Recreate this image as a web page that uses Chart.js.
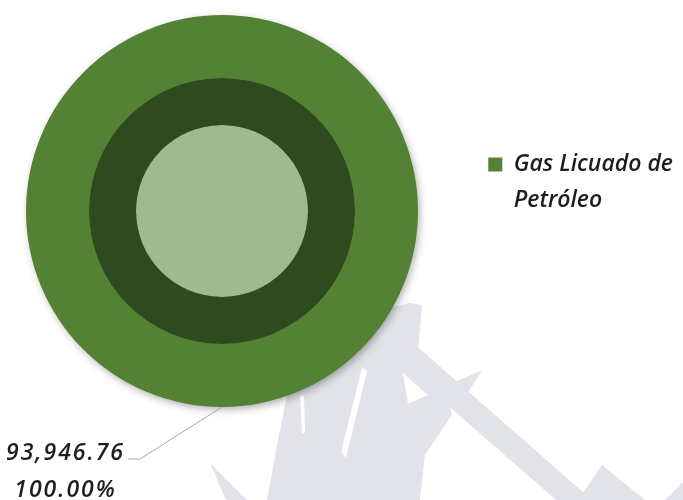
<!DOCTYPE html>
<html>
<head>
    <script src="https://cdn.jsdelivr.net/npm/chart.js"></script>
    <style>
        html, body { margin: 0; padding: 0; background: #fff; }
        #wrap { width: 683px; height: 500px; }
    </style>
</head>
<body>
<div id="wrap"><canvas id="gasChart"></canvas></div>

<script>
    const categories = ['Gas Licuado de Petróleo'];
    const values = [93946.76];
    const ringColors = ['#548235', '#2F4A1E', '#A0BA8D'];
    const ringWeights = [63, 47, 86];

    // split the legend text over two lines like the original
    function wrapLabel(text) {
        const words = text.split(' ');
        return [words.slice(0, -1).join(' '), words[words.length - 1]];
    }

    // grey logo in the background (decoration only)
    const watermark = {
        id: 'watermark',
        beforeDraw(chart) {
            const ctx = chart.ctx;
            const grey = [
                [[410, 303], [422, 305], [418, 350], [440, 372], [452, 415], [425, 455], [420, 500], [267, 500], [278, 440], [290, 380], [300, 330]],
                [[412, 342], [592, 500], [556, 500], [405, 368]],
                [[446, 386], [482, 370], [462, 402]],
                [[210, 463], [226, 500], [247, 500]],
                [[602, 465], [645, 500], [578, 500]],
                [[683, 482], [683, 500], [665, 500]]
            ];
            const white = [
                [[362, 368], [367, 371], [346, 458], [341, 452]],
                [[300, 395], [304, 396], [305, 432], [302, 434]],
                [[403, 373], [428, 395], [408, 404]]
            ];
            const fill = (shapes, colour) => {
                ctx.fillStyle = colour;
                shapes.forEach(s => {
                    ctx.beginPath();
                    s.forEach((p, i) => i ? ctx.lineTo(p[0], p[1]) : ctx.moveTo(p[0], p[1]));
                    ctx.closePath();
                    ctx.fill();
                });
            };
            ctx.save();
            fill(grey, '#E2E3E8');
            fill(white, '#FFFFFF');
            ctx.restore();
        }
    };

    // keep the pie square on the left, legend stays on the right
    const squareArea = {
        id: 'squareArea',
        afterLayout(chart) {
            const a = chart.chartArea;
            a.right = a.left + a.height;
            a.width = a.height;
        }
    };

    // soft shadow under the outer ring
    const ringShadow = {
        id: 'ringShadow',
        beforeDatasetsDraw(chart) {
            const arc = chart.getDatasetMeta(0).data[0];
            if (!arc) return;
            const {x, y, outerRadius} = arc.getProps(['x', 'y', 'outerRadius'], true);
            const ctx = chart.ctx;
            ctx.save();
            ctx.shadowColor = 'rgba(0,0,0,0.35)';
            ctx.shadowBlur = 8;
            ctx.shadowOffsetX = 2;
            ctx.shadowOffsetY = 3;
            ctx.fillStyle = ringColors[0];
            ctx.beginPath();
            ctx.arc(x, y, outerRadius - 1, 0, Math.PI * 2);
            ctx.fill();
            ctx.restore();
        }
    };

    // value + percent label with leader line
    const sliceLabels = {
        id: 'sliceLabels',
        afterDatasetsDraw(chart) {
            const ctx = chart.ctx;
            const meta = chart.getDatasetMeta(0);
            const total = values.reduce((a, b) => a + b, 0);
            meta.data.forEach((arc, i) => {
                const {x, y, startAngle, endAngle, outerRadius} =
                    arc.getProps(['x', 'y', 'startAngle', 'endAngle', 'outerRadius'], true);
                const mid = (startAngle + endAngle) / 2;
                const px = x + Math.cos(mid) * outerRadius;
                const py = y + Math.sin(mid) * outerRadius;
                const ex = px - 82, ey = py + 52;
                const lx = ex - 12;

                ctx.save();
                ctx.strokeStyle = '#A6A6A6';
                ctx.lineWidth = 1;
                ctx.beginPath();
                ctx.moveTo(px, py);
                ctx.lineTo(ex, ey);
                ctx.lineTo(lx, ey);
                ctx.stroke();

                const num = values[i].toLocaleString('en-US', {minimumFractionDigits: 2, maximumFractionDigits: 2});
                const pct = (values[i] / total * 100).toFixed(2) + '%';
                ctx.font = 'italic 600 23px "Open Sans"';
                ctx.letterSpacing = '2px';
                ctx.fillStyle = '#1E1E1E';
                ctx.textBaseline = 'middle';
                ctx.textAlign = 'center';
                const w = ctx.measureText(num).width;
                const cx = lx - 3 - w / 2;
                ctx.fillText(num, cx, ey - 6);
                ctx.fillText(pct, cx, ey + 31);
                ctx.restore();
            });
        }
    };

    new Chart(document.getElementById('gasChart'), {
        type: 'doughnut',
        data: {
            labels: categories,
            datasets: ringColors.map((c, i) => ({
                data: values,
                backgroundColor: c,
                borderWidth: 0,
                weight: ringWeights[i],
                hoverOffset: 0
            }))
        },
        options: {
            responsive: true,
            maintainAspectRatio: false,
            animation: false,
            cutout: 0,
            layout: { padding: { left: 26, top: 15, bottom: 93, right: 0 } },
            plugins: {
                tooltip: { enabled: false },
                legend: {
                    position: 'right',
                    align: 'start',
                    title: { display: true, text: '', font: { size: 10, lineHeight: 1 }, padding: { top: 118, bottom: 0 } },
                    labels: {
                        boxWidth: 14,
                        boxHeight: 14,
                        padding: 10,
                        color: '#1E1E1E',
                        font: { family: '"Open Sans"', size: 23, style: 'italic', weight: '600', lineHeight: 1.57 },
                        generateLabels(chart) {
                            const items = Chart.overrides.doughnut.plugins.legend.labels.generateLabels(chart);
                            return items.map(it => Object.assign(it, { text: wrapLabel(it.text) }));
                        }
                    }
                }
            }
        },
        plugins: [watermark, squareArea, ringShadow, sliceLabels]
    });
</script>
</body>
</html>
